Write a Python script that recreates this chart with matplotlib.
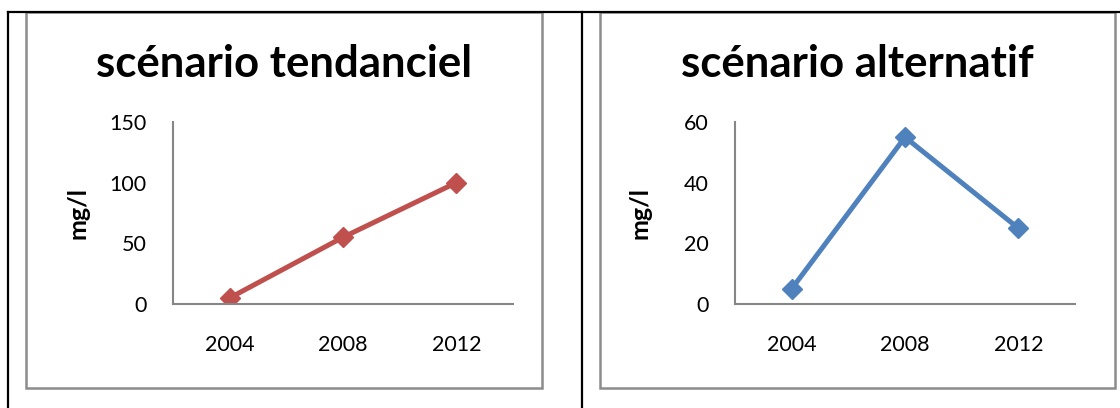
import matplotlib.pyplot as plt
from matplotlib.lines import Line2D
from matplotlib.patches import Rectangle

plt.rcParams['font.family'] = ['Lato', 'DejaVu Sans']

years = ['2004', '2008', '2012']
tendanciel = [5, 55, 100]
alternatif = [5, 55, 25]
titles = ['scénario tendanciel', 'scénario alternatif']
colors = ['#C0504D', '#4F81BD']
ylims = [150, 60]
ysteps = [50, 20]

W, H = 1120, 408
fig = plt.figure(figsize=(W / 100, H / 100), dpi=100)


def fx(x):
    return x / W


def fy(y):
    return 1 - y / H


# table borders (black)
for xs, ys in [((8, 1120), (12, 12)), ((8, 8), (12, 408)), ((582, 582), (12, 408))]:
    fig.add_artist(Line2D([fx(v) for v in xs], [fy(v) for v in ys],
                          color='black', lw=1.6, transform=fig.transFigure))

# chart frames and axes
boxes = [(26, 542), (600, 1115)]
axes_x = [173, 735]
series = [tendanciel, alternatif]

for i in range(2):
    x0, x1 = boxes[i]
    fig.add_artist(Rectangle((fx(x0), fy(388)), fx(x1 - x0), (388 - 12) / H,
                             fill=False, ec='#8C8C8C', lw=1.8,
                             transform=fig.transFigure))
    fig.text(fx((x0 + x1) / 2), fy(64), titles[i], ha='center', va='center',
             fontsize=31.5, fontweight='bold')

    ax = fig.add_axes([fx(axes_x[i]), fy(304), 340 / W, 182 / H])
    ax.plot(range(3), series[i], color=colors[i], lw=3.6, marker='D',
            markersize=10, solid_capstyle='butt')
    ax.set_xlim(-0.5, 2.5)
    ax.set_ylim(0, ylims[i])
    ax.set_yticks(range(0, ylims[i] + 1, ysteps[i]))
    ax.set_xticks(range(3))
    ax.set_xticklabels(years)
    ax.tick_params(length=0, labelsize=15.5, pad=19)
    ax.tick_params(axis='x', pad=22)
    for s in ['top', 'right']:
        ax.spines[s].set_visible(False)
    for s in ['left', 'bottom']:
        ax.spines[s].set_color('#868686')
        ax.spines[s].set_linewidth(1.5)
    ax.patch.set_alpha(0)
    fig.text(fx(axes_x[i] - 95), fy(213), 'mg/l', rotation=90, ha='center',
             va='center', fontsize=18, fontweight='bold')

fig.savefig('out.png', dpi=100)
